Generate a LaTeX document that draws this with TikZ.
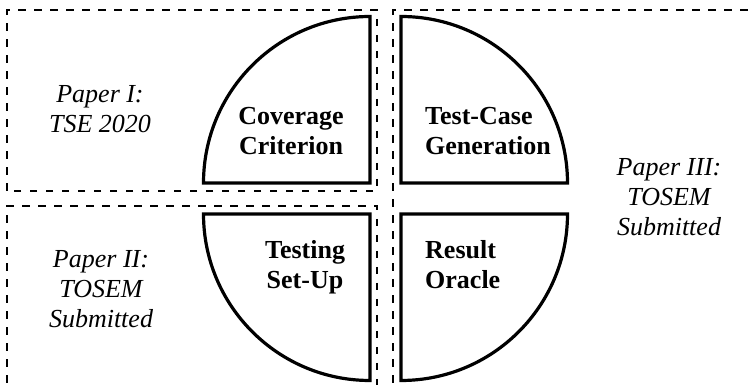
\documentclass[tikz,border=0pt]{standalone}
\usepackage{fontspec}
\setmainfont{Liberation Serif}
\begin{document}
\begin{tikzpicture}[x=1pt,y=1pt,
  paperbox/.style={line width=2pt, dash pattern=on 7.5pt off 8.5pt},
  quarter/.style={line width=3.2pt, fill=white},
  topic/.style={font=\fontsize{26}{30}\selectfont\bfseries, inner sep=0pt},
  paper/.style={font=\fontsize{26}{30}\selectfont\itshape, inner sep=0pt, align=center}
]
\useasboundingbox (0,0) rectangle (756,385);
\clip (0,0) rectangle (756,385);
% dashed paper boxes
\draw[paperbox] (7,194) rectangle (377,375);
\draw[paperbox] (7,-30) rectangle (377,179);
\draw[paperbox] (393,-30) rectangle (790,375);
% quarter discs
\draw[quarter] (370,202) -- (203.5,202) arc[start angle=180, end angle=90, radius=166.5] -- cycle;
\draw[quarter] (401,202) -- (401,368.5) arc[start angle=90, end angle=0, radius=166.5] -- cycle;
\draw[quarter] (370,171) -- (203.5,171) arc[start angle=180, end angle=270, radius=166.5] -- cycle;
\draw[quarter] (401,171) -- (567.5,171) arc[start angle=0, end angle=-90, radius=166.5] -- cycle;
% topic labels
\node[topic, align=center] (cov) at (291,253.8) {Coverage\\Criterion};
\node[topic, align=left, anchor=west] (gen) at (425,253.8) {Test-Case\\Generation};
\node[topic, align=center] (setup) at (305,118) {Testing\\Set-Up};
\node[topic, align=left, anchor=west] (oracle) at (425,120.3) {Result\\Oracle};
% paper labels
\node[paper] (p1) at (100,275.5) {Paper I:\\TSE 2020};
\node[paper] (p2) at (101,95.6) {Paper II:\\TOSEM\\Submitted};
\node[paper] (p3) at (669,187.6) {Paper III:\\TOSEM\\Submitted};
\end{tikzpicture}
\end{document}
